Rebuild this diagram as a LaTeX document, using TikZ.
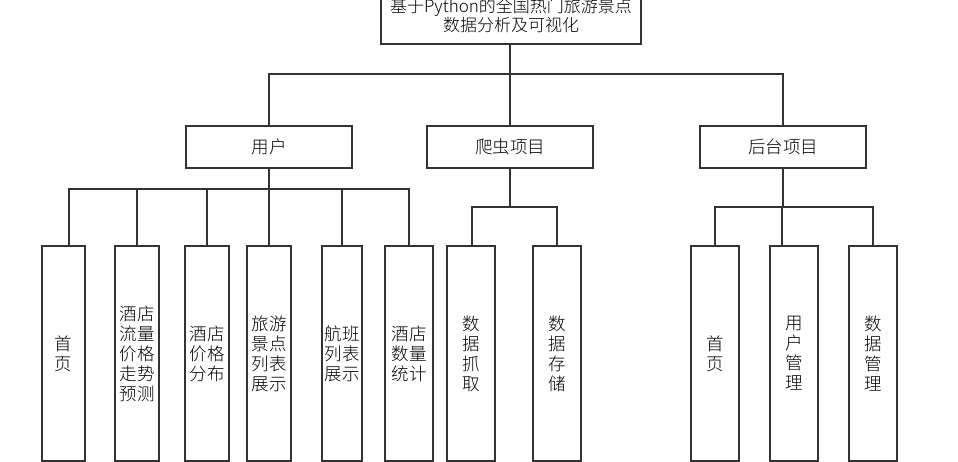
\documentclass[tikz,border=0pt]{standalone}
\usepackage{fontspec}
\setmainfont{Noto Sans CJK SC}
\newfontfamily\cjk{Noto Sans CJK SC Light}
\begin{document}
\begin{tikzpicture}[x=1pt,y=-1pt,
  box/.style={draw=black!80, line width=1.5pt, fill=white, inner sep=0pt, align=center,
    font=\cjk\fontsize{17.5}{20}\selectfont},
  midbox/.style={box, minimum width=166pt, minimum height=42pt},
  leaf/.style={box, minimum height=215pt},
  conn/.style={draw=black!80, line width=1.5pt}]
\useasboundingbox (0,0) rectangle (958,462);
\clip (0,0) rectangle (958,462);
% root
\node[box, minimum width=260pt, minimum height=57pt, font=\cjk\fontsize{17}{19.5}\selectfont] (root) at (511,15.5) {基于Python的全国热门旅游景点\\数据分析及可视化};
% level 2
\node[midbox] (user) at (269,147) {用户};
\node[midbox] (crawl) at (510,147) {爬虫项目};
\node[midbox] (back) at (783,147) {后台项目};
% level 3 user
\node[leaf, minimum width=43pt] (u1) at (63.5,353.5) {首\\页};
\node[leaf, minimum width=44pt] (u2) at (137,353.5) {酒店\\流量\\价格\\走势\\预测};
\node[leaf, minimum width=44pt] (u3) at (207,353.5) {酒店\\价格\\分布};
\node[leaf, minimum width=44pt] (u4) at (269,353.5) {旅游\\景点\\列表\\展示};
\node[leaf, minimum width=40pt] (u5) at (342,353.5) {航班\\列表\\展示};
\node[leaf, minimum width=48pt] (u6) at (409,353.5) {酒店\\数量\\统计};
% level 3 crawl
\node[leaf, minimum width=48pt] (c1) at (471,353.5) {数\\据\\抓\\取};
\node[leaf, minimum width=48pt] (c2) at (557,353.5) {数\\据\\存\\储};
% level 3 back
\node[leaf, minimum width=48pt] (b1) at (715,353.5) {首\\页};
\node[leaf, minimum width=48pt] (b2) at (794,353.5) {用\\户\\管\\理};
\node[leaf, minimum width=48pt] (b3) at (873,353.5) {数\\据\\管\\理};
% connectors root
\coordinate (rbus) at (510,74);
\draw[conn] (root.south -| rbus) -- (rbus);
\draw[conn] (user.north) |- (rbus) -| (back.north);
\draw[conn] (rbus) -- (crawl.north);
% user children
\coordinate (ubus) at (269,189);
\draw[conn] (user.south) -- (ubus);
\draw[conn] ([xshift=5.5pt]u1.north) |- (ubus) -| (u6.north);
\draw[conn] (u2.north) -- (u2.north |- ubus);
\draw[conn] (u3.north) -- (u3.north |- ubus);
\draw[conn] (u4.north) -- (u4.north |- ubus);
\draw[conn] (u5.north) -- (u5.north |- ubus);
% crawl children
\coordinate (cbus) at (510,207);
\draw[conn] (crawl.south) -- (cbus);
\draw[conn] ([xshift=1pt]c1.north) |- (cbus) -| (c2.north);
% back children
\coordinate (bbus) at (783,207);
\draw[conn] (back.south) -- (bbus);
\draw[conn] (b1.north) |- (bbus) -| (b3.north);
\draw[conn] ([xshift=-12pt]b2.north) -- ([xshift=-12pt]b2.north |- bbus);
\end{tikzpicture}
\end{document}
